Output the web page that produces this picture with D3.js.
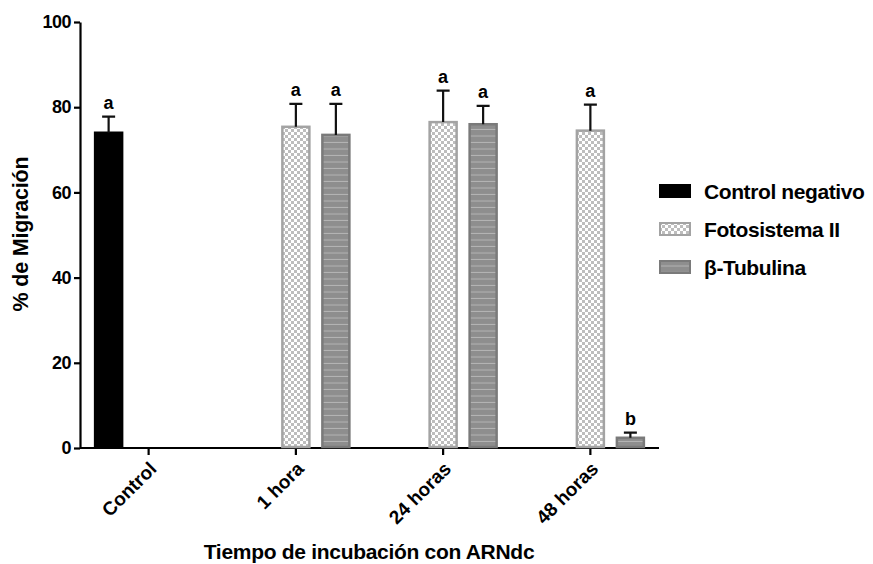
<!DOCTYPE html>
<html>
<head>
<meta charset="utf-8">
<script src="https://cdn.jsdelivr.net/npm/d3@7"></script>
<style>
  body { margin: 0; background: #fff; }
  text { font-family: "Liberation Sans", Arial, sans-serif; font-weight: bold; }
</style>
</head>
<body>
<svg></svg>
<script>
// ---- data ----
const groups = ["Control", "1 hora", "24 horas", "48 horas"];
const series = ["Control negativo", "Fotosistema II", "β-Tubulina"];
// mean, upper error (value at cap), letter
const bars = [
    {group: "Control",  serie: "Control negativo", mean: 74,   cap: 77.8, letter: "a"},
    {group: "1 hora",   serie: "Fotosistema II",   mean: 75.4, cap: 80.8, letter: "a"},
    {group: "1 hora",   serie: "β-Tubulina",       mean: 73.5, cap: 80.8, letter: "a"},
    {group: "24 horas", serie: "Fotosistema II",   mean: 76.5, cap: 83.9, letter: "a"},
    {group: "24 horas", serie: "β-Tubulina",       mean: 76,   cap: 80.3, letter: "a"},
    {group: "48 horas", serie: "Fotosistema II",   mean: 74.5, cap: 80.6, letter: "a"},
    {group: "48 horas", serie: "β-Tubulina",       mean: 2.4,  cap: 3.6,  letter: "b"}
];
const yTicks = [0, 20, 40, 60, 80, 100];

// ---- svg ----
const svgW = 873, svgH = 564;
const svg = d3.select("svg").attr("width", svgW).attr("height", svgH);

const defs = svg.append("defs");
// checkered pattern
const chk = defs.append("pattern").attr("id", "checker")
    .attr("patternUnits", "userSpaceOnUse").attr("width", 6).attr("height", 6);
chk.append("rect").attr("width", 6).attr("height", 6).attr("fill", "#fff");
chk.append("rect").attr("width", 3).attr("height", 3).attr("fill", "#bdbdbd");
chk.append("rect").attr("x", 3).attr("y", 3).attr("width", 3).attr("height", 3).attr("fill", "#bdbdbd");
// horizontal stripes
const str = defs.append("pattern").attr("id", "stripes")
    .attr("patternUnits", "userSpaceOnUse").attr("width", 6).attr("height", 6.5);
str.append("rect").attr("width", 6).attr("height", 6.5).attr("fill", "#8e8e8e");
str.append("rect").attr("y", 5.5).attr("width", 6).attr("height", 1).attr("fill", "#b4b4b4");

const styles = {
    "Control negativo": {fill: "#000", stroke: "#000"},
    "Fotosistema II":   {fill: "url(#checker)", stroke: "#a3a3a3"},
    "β-Tubulina":       {fill: "url(#stripes)", stroke: "#7a7a7a"}
};

const xScale = d3.scaleBand()
    .domain(groups)
    .range([75, 664]);

const xSub = d3.scaleBand()
    .domain(series)
    .range([-60, 60])
    .paddingInner(0.275)
    .paddingOuter(0.1375);

const yScale = d3.scaleLinear()
    .domain([0, 100])
    .range([448, 22]);

// axes
const yAxis = svg.append("g")
    .attr("transform", "translate(80,0)")
    .call(d3.axisLeft(yScale).tickValues(yTicks).tickSize(6).tickSizeOuter(0));
yAxis.select(".domain").attr("stroke-width", 2.2);
yAxis.selectAll(".tick line").attr("stroke-width", 2.2);
yAxis.selectAll(".tick text").attr("font-size", 18).attr("x", -9).attr("fill", "#000")
    .attr("letter-spacing", -0.5);

const xAxis = svg.append("g")
    .attr("transform", "translate(0,448)")
    .call(d3.axisBottom(xScale).tickSize(7).tickSizeOuter(0));
xAxis.select(".domain").attr("d", "M80,0H659").attr("stroke-width", 2.2);
xAxis.selectAll(".tick line").attr("stroke-width", 2.2);
xAxis.selectAll(".tick text")
    .attr("font-size", 19)
    .attr("fill", "#000")
    .attr("text-anchor", "end")
    .attr("dy", null)
    .attr("y", 0)
    .attr("transform", "translate(9,22) rotate(-45)");

// bars
const barG = svg.append("g");
barG.selectAll("rect")
    .data(bars)
    .enter()
    .append("rect")
    .attr("x", d => xScale(d.group) + xScale.bandwidth() / 2 + xSub(d.serie) + 1)
    .attr("y", d => yScale(d.mean))
    .attr("width", xSub.bandwidth() - 2)
    .attr("height", d => yScale(0) - yScale(d.mean) - 1)
    .attr("fill", d => styles[d.serie].fill)
    .attr("stroke", d => styles[d.serie].stroke)
    .attr("stroke-width", 2.5);

// error bars (upper only)
const cx = d => xScale(d.group) + xScale.bandwidth() / 2 + xSub(d.serie) + xSub.bandwidth() / 2;
barG.selectAll(".err")
    .data(bars)
    .enter()
    .append("path")
    .attr("d", d => `M${cx(d)},${yScale(d.mean)}V${yScale(d.cap)}M${cx(d) - 6.5},${yScale(d.cap)}H${cx(d) + 6.5}`)
    .attr("stroke", "#111")
    .attr("stroke-width", 2.2)
    .attr("fill", "none");

barG.selectAll(".lbl")
    .data(bars)
    .enter()
    .append("text")
    .attr("x", cx)
    .attr("y", d => yScale(d.cap) - 8)
    .attr("text-anchor", "middle")
    .attr("font-size", 18)
    .text(d => d.letter);

// legend
const legend = svg.append("g")
    .selectAll("g")
    .data(series)
    .enter()
    .append("g")
    .attr("transform", (d, i) => `translate(659, ${184 + i * 38})`);
legend.append("rect")
    .attr("x", 1).attr("y", 1)
    .attr("width", 30).attr("height", 12)
    .attr("fill", d => styles[d].fill)
    .attr("stroke", d => styles[d].stroke)
    .attr("stroke-width", 2);
legend.append("text")
    .attr("x", 45).attr("y", 15)
    .attr("font-size", 21)
    .attr("letter-spacing", -0.4)
    .text(d => d);

// axis titles
svg.append("text")
    .attr("transform", "translate(28,234) rotate(-90)")
    .attr("text-anchor", "middle")
    .attr("font-size", 21.5)
    .attr("letter-spacing", -0.2)
    .text("% de Migración");

svg.append("text")
    .attr("x", 369).attr("y", 559)
    .attr("text-anchor", "middle")
    .attr("font-size", 21)
    .attr("letter-spacing", -0.3)
    .text("Tiempo de incubación con ARNdc");
</script>
</body>
</html>
